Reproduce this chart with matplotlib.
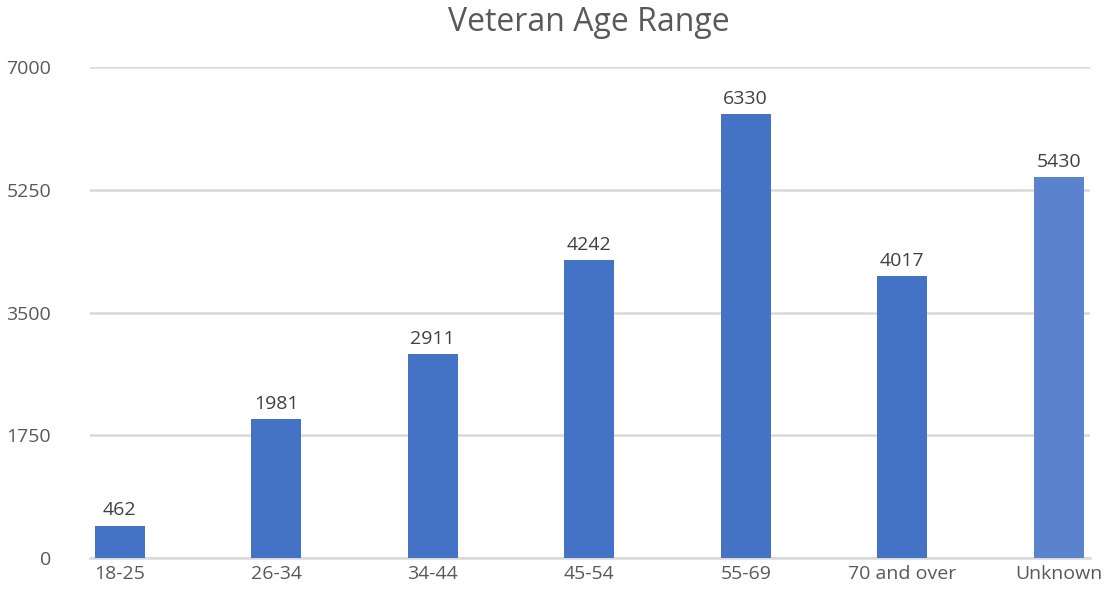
import matplotlib
matplotlib.use("Agg")
import matplotlib.pyplot as plt

categories = ["18-25", "26-34", "34-44", "45-54", "55-69", "70 and over", "Unknown"]
values = [462, 1981, 2911, 4242, 6330, 4017, 5430]
yticks = [0, 1750, 3500, 5250, 7000]
colors = ["#4472C4"] * 6 + ["#5B83CD"]

plt.rcParams['font.family'] = ['Open Sans', 'DejaVu Sans']
fig = plt.figure(figsize=(11.07, 5.9), dpi=100)
ax = fig.add_axes([90/1107, 1-558/590, 1000/1107, 491/590])
x = list(range(len(categories)))
bars = ax.bar(x, values, width=0.32, color=colors, zorder=3)
for xi, v in zip(x, values):
    ax.text(xi, v + 90, str(v), ha='center', va='bottom', fontsize=14, color='#404040')
ax.set_xlim(-0.19, 6.2)
ax.set_ylim(0, 7000)
ax.set_yticks(yticks)
ax.set_yticklabels([str(t) for t in yticks])
ax.set_xticks(x)
ax.set_xticklabels(categories)
ax.grid(axis='y', color='#D9D9D9', linewidth=1.8, zorder=0)
for s in ['top', 'right', 'left']:
    ax.spines[s].set_visible(False)
ax.spines['bottom'].set_color('#D9D9D9')
ax.spines['bottom'].set_linewidth(1.8)
ax.tick_params(axis='both', length=0, labelsize=14, colors='#595959')
ax.tick_params(axis='y', pad=28)
ax.tick_params(axis='x', pad=5)
fig.text(0.532, 0.962, "Veteran Age Range", ha='center', va='center', fontsize=23, color='#595959')
fig.savefig("out.png", dpi=100)
